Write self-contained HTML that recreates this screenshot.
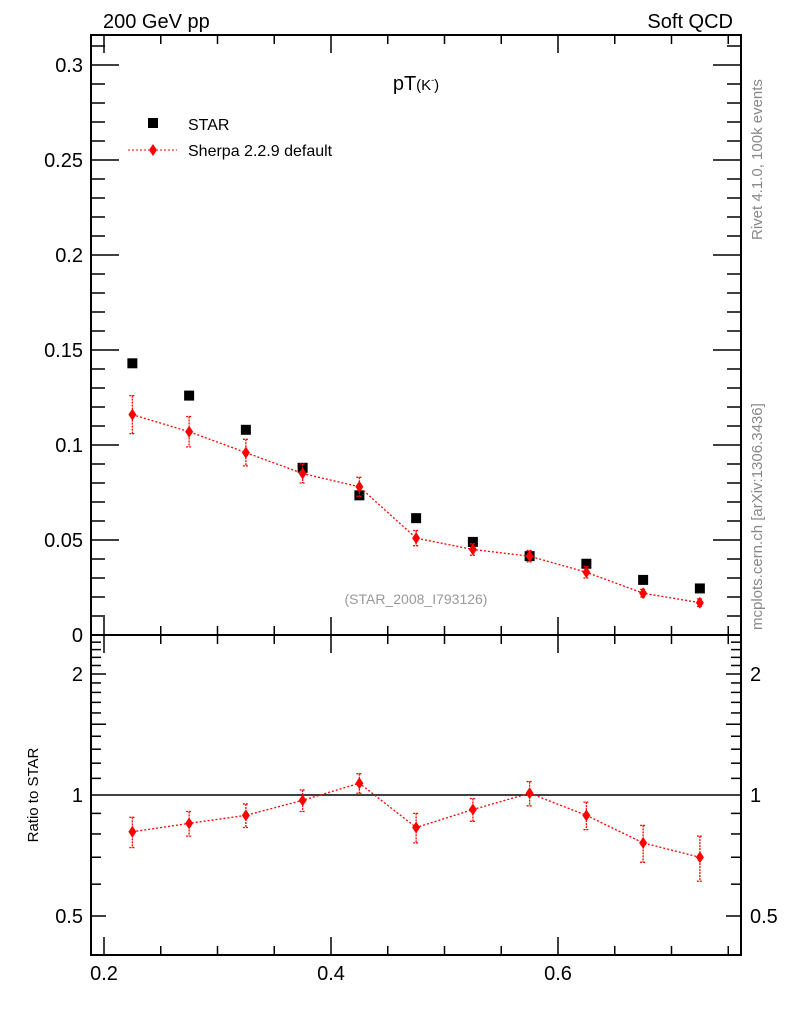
<!DOCTYPE html>
<html><head><meta charset="utf-8"><style>
body{margin:0;background:#fff}
svg{font-family:"Liberation Sans",sans-serif}
</style></head><body>
<svg id="c" width="786" height="1024" xmlns="http://www.w3.org/2000/svg">
<text x="103" y="28" font-size="20">200 GeV pp</text>
<text x="733" y="28" font-size="20" text-anchor="end">Soft QCD</text>
<text x="416" y="90" font-size="20" text-anchor="middle">pT<tspan font-size="15">(K</tspan><tspan font-size="9" dy="-7">-</tspan><tspan font-size="15" dy="7">)</tspan></text>
<rect x="91" y="35" width="650" height="600" fill="none" stroke="#000" stroke-width="2"/>
<rect x="91" y="635" width="650" height="320" fill="none" stroke="#000" stroke-width="2"/>
<rect x="148" y="118" width="10" height="10" fill="#000"/>
<text x="188" y="130" font-size="16">STAR</text>
<line x1="128" y1="150" x2="177" y2="150" stroke="red" stroke-dasharray="2,2"/>
<polygon points="153,144 157,150 153,156 149,150" fill="red"/>
<text x="188" y="156" font-size="16">Sherpa 2.2.9 default</text>
<text x="416" y="604" font-size="14" fill="#999" text-anchor="middle">(STAR_2008_I793126)</text>
<text font-size="15" text-anchor="middle" transform="translate(38,795) rotate(-90)">Ratio to STAR</text>
<text transform="translate(762,240) rotate(-90)" font-size="15" fill="#888">Rivet 4.1.0,  100k events</text>
<text transform="translate(762,630) rotate(-90)" font-size="15" fill="#888">mcplots.cern.ch [arXiv:1306.3436]</text>
<g id="g"></g>
</svg>
<script>
const xs=[0.225,0.275,0.325,0.375,0.425,0.475,0.525,0.575,0.625,0.675,0.725];
const star=[0.143,0.126,0.108,0.088,0.0735,0.0615,0.049,0.0415,0.0375,0.029,0.0245];
const sherpa=[0.116,0.107,0.096,0.085,0.078,0.051,0.045,0.0415,0.033,0.022,0.017];
const sherpaErr=[0.010,0.008,0.007,0.005,0.005,0.004,0.003,0.003,0.003,0.002,0.002];
const ratio=[0.81,0.85,0.89,0.97,1.07,0.83,0.92,1.01,0.89,0.76,0.70];
const ratioErr=[0.07,0.06,0.06,0.06,0.06,0.07,0.06,0.07,0.07,0.08,0.09];
const yTicks=[0,0.05,0.1,0.15,0.2,0.25,0.3];
const yLabels=["0","0.05","0.1","0.15","0.2","0.25","0.3"];
const xTicks=[0.2,0.4,0.6];
const xLabels=["0.2","0.4","0.6"];
const rTicks=[0.5,1,2];
const rLabels=["0.5","1","2"];
const rMinor=[0.6,0.7,0.8,0.9,1.1,1.2,1.3,1.4,1.6,1.7,1.8,1.9,2.1,2.2,2.3,2.4];
const rMid=[0.5,1.5,2];
const X=v=>104+(v-0.2)*1135;
const Y=v=>635-v*1900;
const R=v=>795-Math.log2(v)*121;
const g=document.getElementById('g');const NS="http://www.w3.org/2000/svg";
function mk(t,a,txt){const e=document.createElementNS(NS,t);for(const k in a)e.setAttribute(k,a[k]);if(txt!=null)e.textContent=txt;g.appendChild(e);return e;}
for(let v=0.2;v<0.76;v+=0.05){const major=Math.abs(v*10-Math.round(v*10))<1e-6&&Math.round(v*10)%2==0;const L=major?18:9;
for(const [yb,dir] of [[955,-1],[635,-1],[635,1],[35,1]]){let e=mk('line',{x1:X(v),x2:X(v),y1:yb,y2:yb+dir*L,stroke:'#000','stroke-width':1.5});

}}
xTicks.forEach((v,i)=>{let e=mk('text',{x:X(v),y:980,'font-size':20,'text-anchor':'middle'},xLabels[i]);

});
for(let i=0;i<=32;i++){const v=i*0.01;if(Y(v)<35)break;const major=i%5==0;const L=major?28:14;
for(const [xb,d] of [[91,1],[741,-1]]){let e=mk('line',{x1:xb,x2:xb+d*L,y1:Y(v),y2:Y(v),stroke:'#000','stroke-width':1.5});

}}
yTicks.forEach((v,i)=>{let e=mk('text',{x:83,y:Y(v)+7,'font-size':20,'text-anchor':'end'},yLabels[i]);

});
rMinor.concat(rMid).forEach(v=>{if(R(v)<636)return;const L=rMid.includes(v)?15:10;
for(const [xb,d] of [[91,1],[741,-1]]){let e=mk('line',{x1:xb,x2:xb+d*L,y1:R(v),y2:R(v),stroke:'#000','stroke-width':1.5});

}});
rTicks.forEach((v,i)=>{for(const [x,a] of [[83,'end'],[750,'start']]){let e=mk('text',{x:x,y:R(v)+7,'font-size':20,'text-anchor':a},rLabels[i]);

}});
let ref=mk('line',{x1:91,x2:741,y1:R(1),y2:R(1),stroke:'#000','stroke-width':1.5});


xs.forEach((x,i)=>{let e=mk('rect',{x:X(x)-5,y:Y(star[i])-5,width:10,height:10,fill:'#000'});

});
function series(vals,errs,fy,nm){
let p=mk('polyline',{points:xs.map((x,i)=>X(x)+','+fy(vals[i])).join(' '),fill:'none',stroke:'red','stroke-width':1.3,'stroke-dasharray':'2,2'});


xs.forEach((x,i)=>{const cx=X(x),cy=fy(vals[i]);const y1=fy(vals[i]+errs[i]),y2=fy(vals[i]-errs[i]);
let e=mk('path',{d:`M${cx},${y1}V${y2}M${cx-3},${y1}H${cx+3}M${cx-3},${y2}H${cx+3}`,stroke:'red','stroke-width':1.3,'stroke-dasharray':'2,1',fill:'none'});


let m=mk('polygon',{points:`${cx},${cy-6} ${cx+4},${cy} ${cx},${cy+6} ${cx-4},${cy}`,fill:'red'});

});}
series(sherpa,sherpaErr,Y,'sherpa');
series(ratio,ratioErr,R,'sherpa-ratio');
</script>
</body></html>
